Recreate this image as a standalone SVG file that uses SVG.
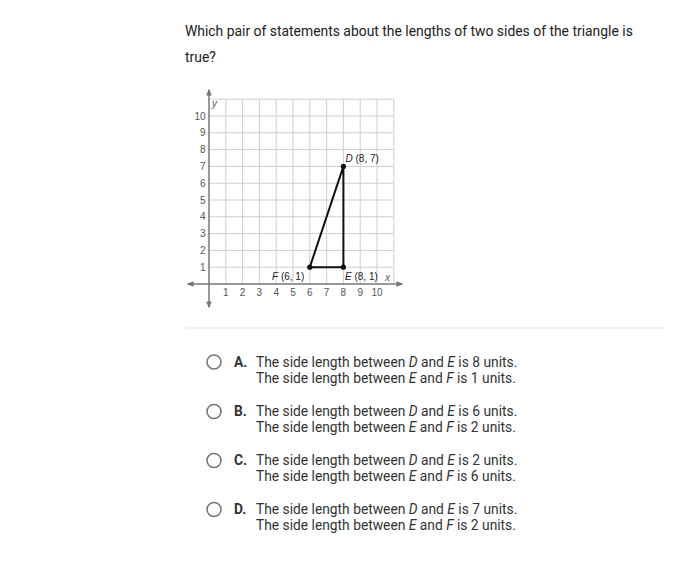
<svg xmlns="http://www.w3.org/2000/svg" width="700" height="567" viewBox="0 0 700 567">
<defs>
<style>
.q{font-family:Roboto,"Liberation Sans",sans-serif;font-size:13.9px;fill:#222}
.t{font-family:Roboto,"Liberation Sans",sans-serif;font-size:13.8px;fill:#333}
.b{font-weight:bold}
.i{font-style:italic}
.tick{font-family:"Liberation Sans",Arial,sans-serif;font-size:10px;fill:#555}
.pl{font-family:"Liberation Sans",Arial,sans-serif;font-size:10px;fill:#222}
.grid line{stroke:#cfcfcf;stroke-width:1}
.axis{stroke:#777;stroke-width:1.5;fill:none}
.radio{fill:#fff;stroke:#777;stroke-width:1.6}
</style>
<marker id="ah" viewBox="0 0 10 10" refX="8" refY="5" markerWidth="7" markerHeight="7" orient="auto-start-reverse" markerUnits="userSpaceOnUse">
<path d="M0,1 L10,5 L0,9 z" fill="#777"/>
</marker>
</defs>
<rect width="700" height="567" fill="#fff"/>
<g id="question">
<text class="q" x="185" y="36">Which pair of statements about the lengths of two sides of the triangle is</text>
<text class="q" x="185" y="62">true?</text>
</g>
<g id="graph">
<g class="grid">
<line x1="225.8" y1="99" x2="225.8" y2="284"/><line x1="242.6" y1="99" x2="242.6" y2="284"/>
<line x1="259.4" y1="99" x2="259.4" y2="284"/><line x1="276.2" y1="99" x2="276.2" y2="284"/>
<line x1="293" y1="99" x2="293" y2="284"/><line x1="309.8" y1="99" x2="309.8" y2="284"/>
<line x1="326.6" y1="99" x2="326.6" y2="284"/><line x1="343.4" y1="99" x2="343.4" y2="284"/>
<line x1="360.2" y1="99" x2="360.2" y2="284"/><line x1="377" y1="99" x2="377" y2="284"/>
<line x1="393.8" y1="99" x2="393.8" y2="284"/>
<line x1="209" y1="267.2" x2="393.8" y2="267.2"/><line x1="209" y1="250.4" x2="393.8" y2="250.4"/>
<line x1="209" y1="233.6" x2="393.8" y2="233.6"/><line x1="209" y1="216.8" x2="393.8" y2="216.8"/>
<line x1="209" y1="200" x2="393.8" y2="200"/><line x1="209" y1="183.2" x2="393.8" y2="183.2"/>
<line x1="209" y1="166.4" x2="393.8" y2="166.4"/><line x1="209" y1="149.6" x2="393.8" y2="149.6"/>
<line x1="209" y1="132.8" x2="393.8" y2="132.8"/><line x1="209" y1="116" x2="393.8" y2="116"/>
<line x1="209" y1="99.2" x2="393.8" y2="99.2"/>
</g>
<line class="axis" x1="188" y1="284" x2="402" y2="284" marker-start="url(#ah)" marker-end="url(#ah)"/>
<line class="axis" x1="209" y1="90" x2="209" y2="307" marker-start="url(#ah)" marker-end="url(#ah)"/>
<g class="tick" text-anchor="middle">
<text x="225.8" y="296">1</text><text x="242.6" y="296">2</text><text x="259.4" y="296">3</text>
<text x="276.2" y="296">4</text><text x="293" y="296">5</text><text x="309.8" y="296">6</text>
<text x="326.6" y="296">7</text><text x="343.4" y="296">8</text><text x="360.2" y="296">9</text>
<text x="377" y="296">10</text>
</g>
<g class="tick" text-anchor="end">
<text x="205.5" y="270.8">1</text><text x="205.5" y="254">2</text><text x="205.5" y="237.2">3</text>
<text x="205.5" y="220.4">4</text><text x="205.5" y="203.6">5</text><text x="205.5" y="186.8">6</text>
<text x="205.5" y="170">7</text><text x="205.5" y="153.2">8</text><text x="205.5" y="136.4">9</text>
<text x="205.5" y="119.6">10</text>
</g>
<text class="tick i" x="212" y="107">y</text>
<text class="tick i" x="385" y="281">x</text>
</g>
<g id="triangle">
<polygon points="343.4,166.4 343.4,267.2 309.8,267.2" fill="none" stroke="#111" stroke-width="2"/>
<circle cx="343.4" cy="166.4" r="2.6" fill="#111"/>
<circle cx="343.4" cy="267.2" r="2.6" fill="#111"/>
<circle cx="309.8" cy="267.2" r="2.6" fill="#111"/>
<text class="pl" x="345.5" y="162"><tspan class="i">D</tspan> (8, 7)</text>
<text class="pl" x="272" y="280"><tspan class="i">F</tspan> (6, 1)</text>
<text class="pl" x="345" y="280"><tspan class="i">E</tspan> (8, 1)</text>
</g>
<line x1="185" y1="328" x2="665" y2="328" stroke="#e6e6e6" stroke-width="1"/>
<g id="optA">
<circle class="radio" cx="214" cy="362" r="7"/>
<text class="t b" x="234" y="366.5">A.</text>
<text class="t" x="256" y="366.5">The side length between <tspan class="i">D</tspan> and <tspan class="i">E</tspan> is 8 units.</text>
<text class="t" x="256" y="382.5">The side length between <tspan class="i">E</tspan> and <tspan class="i">F</tspan> is 1 units.</text>
</g>
<g id="optB">
<circle class="radio" cx="214" cy="411.5" r="7"/>
<text class="t b" x="234" y="416">B.</text>
<text class="t" x="256" y="416">The side length between <tspan class="i">D</tspan> and <tspan class="i">E</tspan> is 6 units.</text>
<text class="t" x="256" y="432">The side length between <tspan class="i">E</tspan> and <tspan class="i">F</tspan> is 2 units.</text>
</g>
<g id="optC">
<circle class="radio" cx="214" cy="460.5" r="7"/>
<text class="t b" x="234" y="465">C.</text>
<text class="t" x="256" y="465">The side length between <tspan class="i">D</tspan> and <tspan class="i">E</tspan> is 2 units.</text>
<text class="t" x="256" y="481">The side length between <tspan class="i">E</tspan> and <tspan class="i">F</tspan> is 6 units.</text>
</g>
<g id="optD">
<circle class="radio" cx="214" cy="509.5" r="7"/>
<text class="t b" x="234" y="514">D.</text>
<text class="t" x="256" y="514">The side length between <tspan class="i">D</tspan> and <tspan class="i">E</tspan> is 7 units.</text>
<text class="t" x="256" y="530">The side length between <tspan class="i">E</tspan> and <tspan class="i">F</tspan> is 2 units.</text>
</g>
</svg>
